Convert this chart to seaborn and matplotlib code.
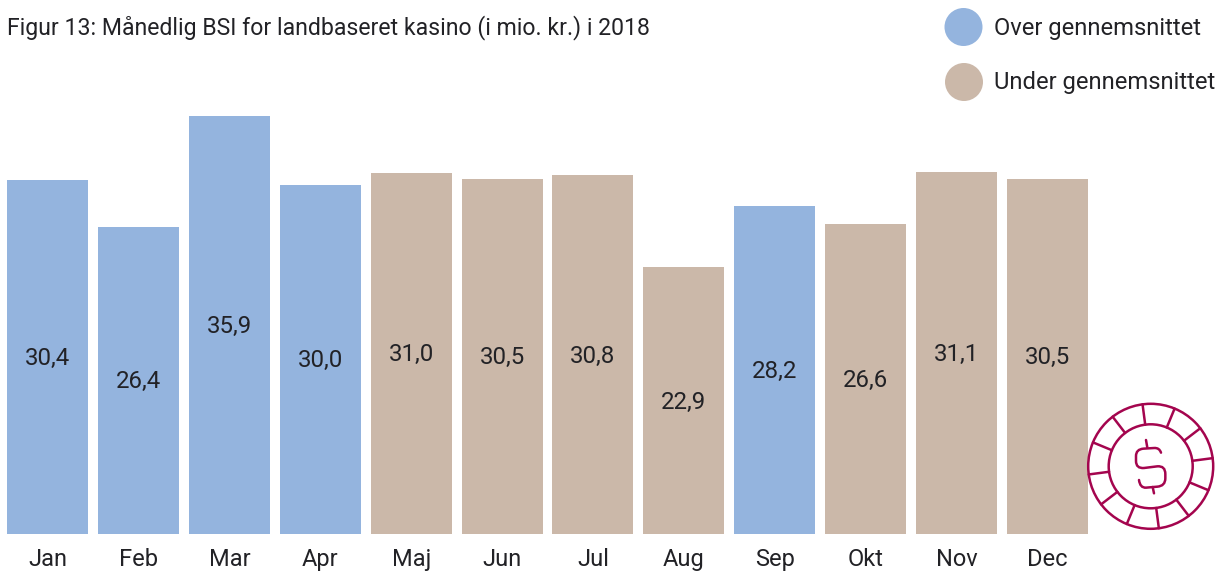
import numpy as np
import pandas as pd
import matplotlib.pyplot as plt
from matplotlib.patches import Circle, PathPatch
from matplotlib.path import Path
import seaborn as sns

months = ['Jan', 'Feb', 'Mar', 'Apr', 'Maj', 'Jun', 'Jul', 'Aug', 'Sep', 'Okt', 'Nov', 'Dec']
values = [30.4, 26.4, 35.9, 30.0, 31.0, 30.5, 30.8, 22.9, 28.2, 26.6, 31.1, 30.5]
groups = ['Over gennemsnittet'] * 4 + ['Under gennemsnittet'] * 4 + \
         ['Over gennemsnittet'] + ['Under gennemsnittet'] * 3
title = 'Figur 13: Månedlig BSI for landbaseret kasino (i mio. kr.) i 2018'

BLUE = '#94B4DE'
TAN = '#CBB8A9'
CHIP = '#A4054E'
INK = '#222226'
W, H = 1222, 571
STEP = 1000 / 11  # pixels between bar centres

sns.set_theme(style='white')
plt.rcParams['font.family'] = ['Roboto', 'DejaVu Sans']

df = pd.DataFrame({'month': months, 'value': values, 'group': groups})

fig = plt.figure(figsize=(W / 100, H / 100), dpi=100)
# axes bottom sits on the bar baseline, top on the tallest bar
ax = fig.add_axes([0, (H - 534) / H, 1, (534 - 116) / H])
sns.barplot(data=df, x='month', y='value', hue='group', order=months,
            palette={'Over gennemsnittet': BLUE, 'Under gennemsnittet': TAN},
            dodge=False, width=81 / STEP, saturation=1, legend=False, linewidth=0, ax=ax)
ax.set_xlim(-47.5 / STEP, (W - 47.5) / STEP)
ax.set_ylim(0, max(values))
ax.set_xlabel('')
ax.set_ylabel('')
ax.set_yticks([])
ax.tick_params(axis='x', length=0, pad=10, labelsize=17, labelcolor=INK)
sns.despine(ax=ax, left=True, bottom=True)

for m, v in zip(range(len(months)), values):
    ax.annotate(f'{v:.1f}'.replace('.', ','), (m, v / 2), xytext=(0, -1), textcoords='offset points',
                ha='center', va='center', fontsize=17.3, color=INK)

# overlay in pixel coordinates for title, legend and the chip icon
deco = fig.add_axes([0, 0, 1, 1])
deco.set_xlim(0, W)
deco.set_ylim(H, 0)
deco.axis('off')
deco.patch.set_alpha(0)

deco.text(7, 28, title, fontsize=16.55, color=INK, va='center', ha='left')
deco.add_patch(Circle((963.5, 27), 19, color=BLUE, lw=0))
deco.add_patch(Circle((964, 82), 19, color=TAN, lw=0))
deco.text(994, 28, 'Over gennemsnittet', fontsize=17.1, color=INK, va='center')
deco.text(994, 82, 'Under gennemsnittet', fontsize=17.1, color=INK, va='center')

cx, cy = 1150.7, 466.3
deco.add_patch(Circle((cx, cy), 62.5, fill=False, ec=CHIP, lw=1.8))
deco.add_patch(Circle((cx, cy), 42, fill=False, ec=CHIP, lw=1.8))
for a in np.deg2rad(-7.5 + 30 * np.arange(12)):
    deco.plot([cx + 42 * np.cos(a), cx + 62.5 * np.cos(a)],
              [cy + 42 * np.sin(a), cy + 62.5 * np.sin(a)], color=CHIP, lw=1.8)

# dollar sign (crop coordinates, 3x)
s_pts = [(303, 218), (298, 203), (283, 204), (250, 206), (228, 208), (228, 228), (228, 243),
         (228, 266), (252, 264), (292, 259), (316, 257), (316, 282), (316, 295), (316, 318),
         (292, 320), (258, 323), (240, 324), (237, 300)]
s_codes = [Path.MOVETO, Path.CURVE3, Path.CURVE3, Path.LINETO, Path.CURVE3, Path.CURVE3, Path.LINETO,
           Path.CURVE3, Path.CURVE3, Path.LINETO, Path.CURVE3, Path.CURVE3, Path.LINETO,
           Path.CURVE3, Path.CURVE3, Path.LINETO, Path.CURVE3, Path.CURVE3]
s_xy = np.array(s_pts) / 3 + [1060, 380]
deco.add_patch(PathPatch(Path(s_xy, s_codes), fill=False, ec=CHIP, lw=1.8, capstyle='round'))
deco.plot([1060 + 258 / 3, 1060 + 262 / 3], [380 + 180 / 3, 380 + 203 / 3], color=CHIP, lw=1.8)
deco.plot([1060 + 278 / 3, 1060 + 282 / 3], [380 + 321 / 3, 380 + 340 / 3], color=CHIP, lw=1.8)

fig.savefig('out.png', dpi=100)
